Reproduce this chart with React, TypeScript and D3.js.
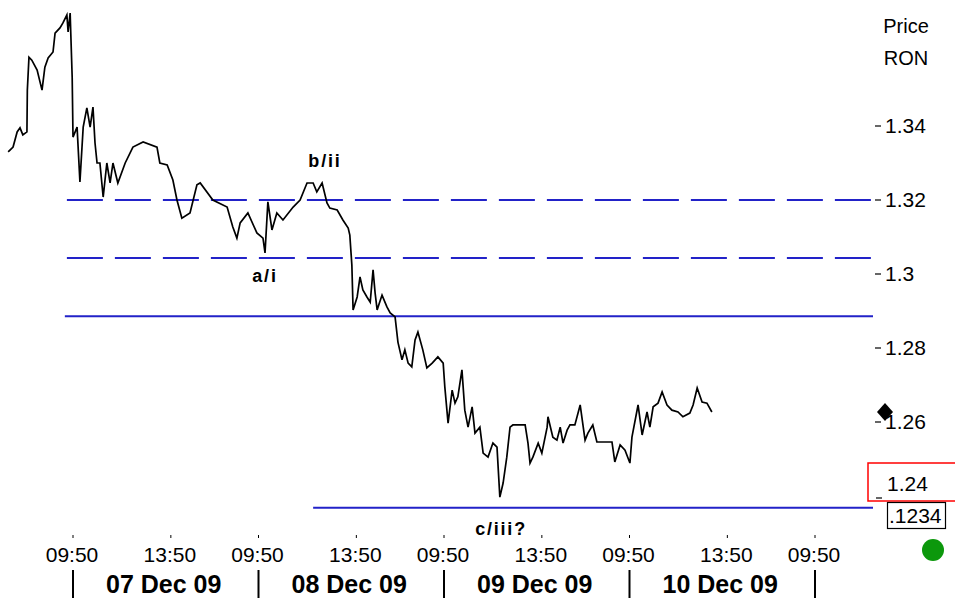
import React from "react";
import * as d3 from "d3";

// trading minutes counted from 07 Dec 09 09:50 (one session = 455 min)
const times = [
  -159, -147, -137, -130, -123, -113, -112, -108, -101, -88, -76, -69, -61, -49, -44, -32, -25, -15, -12, -7, -2,
  0, 10, 17, 25, 34, 42, 49, 54, 59, 66, 74, 83, 91, 98, 110, 128, 147, 172, 206, 213, 231, 245, 255, 267, 287,
  304, 312, 343, 378, 392, 402, 410, 429, 451, 466, 471, 478, 488, 500, 515, 540, 557, 574, 589, 598, 611, 623,
  630, 648, 662, 675, 679, 684, 687, 697, 704, 711, 721, 729, 736, 741, 746, 758, 770, 778, 790, 797, 807, 814,
  822, 831, 839, 846, 858, 868, 881, 895, 908, 912, 920, 930, 937, 944, 954, 961, 969, 979, 986, 998, 1006, 1018,
  1030, 1040, 1047, 1055, 1064, 1072, 1079, 1109, 1116, 1121, 1128, 1141, 1150, 1163, 1165, 1177, 1187, 1195,
  1202, 1212, 1219, 1231, 1244, 1256, 1263, 1275, 1285, 1322, 1329, 1342, 1354, 1366, 1371, 1386, 1396, 1408,
  1415, 1423, 1435, 1445, 1457, 1469, 1484, 1496, 1513, 1521, 1531, 1543, 1555, 1567,
];
const prices = [
  1.333, 1.3343, 1.3384, 1.3395, 1.3376, 1.3384, 1.3497, 1.3586, 1.3578, 1.3551, 1.3497, 1.3559, 1.3584, 1.36,
  1.3651, 1.3665, 1.3678, 1.37, 1.3654, 1.3705, 1.3532, 1.337, 1.3397, 1.3249, 1.3397, 1.3449, 1.3397, 1.3451,
  1.3354, 1.33, 1.33, 1.3208, 1.33, 1.3246, 1.33, 1.3246, 1.33, 1.3343, 1.3357, 1.3343, 1.33, 1.3295, 1.3254,
  1.32, 1.3151, 1.3165, 1.3241, 1.3246, 1.32, 1.3181, 1.3127, 1.3097, 1.3138, 1.3165, 1.3111, 1.3097, 1.3057,
  1.3195, 1.3119, 1.3165, 1.3146, 1.3181, 1.32, 1.3246, 1.3246, 1.3222, 1.3246, 1.3192, 1.3178, 1.3173, 1.3146,
  1.3124, 1.3105, 1.3024, 1.2903, 1.2938, 1.2992, 1.2957, 1.2938, 1.2924, 1.3011, 1.2949, 1.2903, 1.2943,
  1.2911, 1.2895, 1.2884, 1.2816, 1.2768, 1.2795, 1.2759, 1.2749, 1.2822, 1.2843, 1.2795, 1.2746, 1.2759,
  1.2776, 1.2759, 1.2695, 1.2597, 1.2686, 1.2651, 1.2668, 1.2741, 1.2632, 1.2586, 1.2641, 1.257, 1.2586,
  1.2516, 1.2505, 1.2543, 1.2532, 1.2397, 1.2435, 1.2505, 1.2586, 1.2592, 1.2592, 1.2543, 1.2489, 1.2505,
  1.2543, 1.2516, 1.2586, 1.2614, 1.2559, 1.2551, 1.2586, 1.2543, 1.2578, 1.2592, 1.2592, 1.2646, 1.2551,
  1.257, 1.2592, 1.2546, 1.2546, 1.2492, 1.2538, 1.2524, 1.2489, 1.2559, 1.2646, 1.2565, 1.2627, 1.2586,
  1.2641, 1.2651, 1.2681, 1.2646, 1.2632, 1.2627, 1.2614, 1.2624, 1.2646, 1.2692, 1.2654, 1.2651, 1.2627,
];

const dayLabels = ["07 Dec 09", "08 Dec 09", "09 Dec 09", "10 Dec 09"];
const sessionLength = 455;
const sessionTickOffsets = [0, 240];
const sessionTickLabels = ["09:50", "13:50"];
const priceTicks = [1.34, 1.32, 1.3, 1.28, 1.26];
const currentTick = 1.24;

// support / resistance levels drawn by the analyst
const levelPrices = [1.32, 1.3043, 1.2886, 1.2368];
const levelStarts = [-15, -15, -20, 589];
const levelDashed = [true, true, false, false];

const annotationLabels = ["b/ii", "a/i", "c/iii?"];
const annotationTimes = [618, 471, 1050];
const annotationPrices = [1.3289, 1.2978, 1.2295];

const W = 955;
const H = 603;
const plotRight = 873;
const blue = "#2222c8";
const font = "'Liberation Sans', Arial, sans-serif";

const App: React.FC = () => {
  const x = d3.scaleLinear().domain([0, 4 * sessionLength]).range([73, 815]);
  const y = d3.scaleLinear().domain([1.24, 1.34]).range([496, 126]);

  const data = times.map((t, i) => ({ t, p: prices[i] }));
  const line = d3
    .line<{ t: number; p: number }>()
    .x((d) => x(d.t))
    .y((d) => y(d.p));

  const ticks: { t: number; label: string }[] = [];
  for (let d = 0; d <= dayLabels.length; d++) {
    sessionTickOffsets.forEach((o, i) => {
      const t = d * sessionLength + o;
      if (t <= dayLabels.length * sessionLength) ticks.push({ t, label: sessionTickLabels[i] });
    });
  }

  return (
    <svg
      width={W}
      height={H}
      style={{ position: "absolute", left: 0, top: 0, background: "#fff" }}
      fontFamily={font}
    >
      <rect width={W} height={H} fill="#fff" />

      {levelPrices.map((p, i) => (
        <line
          key={"lv" + i}
          x1={x(levelStarts[i])}
          x2={plotRight}
          y1={y(p)}
          y2={y(p)}
          stroke={blue}
          strokeWidth={2}
          strokeDasharray={levelDashed[i] ? "36 12" : undefined}
        />
      ))}

      <path d={line(data) || ""} fill="none" stroke="#000" strokeWidth={1.7} strokeLinejoin="miter" />

      {annotationLabels.map((a, i) => (
        <text
          key={"an" + i}
          x={x(annotationTimes[i])}
          y={y(annotationPrices[i])}
          textAnchor="middle"
          fontWeight="bold"
          fontSize={18}
          letterSpacing={1.8}
        >
          {a}
        </text>
      ))}

      {/* right price axis */}
      <text x={906} y={33} textAnchor="middle" fontSize={20}>Price</text>
      <text x={906} y={65} textAnchor="middle" fontSize={20}>RON</text>
      {priceTicks.map((p) => (
        <g key={"pt" + p}>
          <line x1={875} x2={881} y1={y(p)} y2={y(p)} stroke="#000" strokeWidth={1.2} />
          <text x={885} y={y(p) + 7} fontSize={21}>{String(p)}</text>
        </g>
      ))}

      {/* current-level edit box */}
      <rect x={868} y={463} width={95} height={38} fill="#fff" stroke="#f00" strokeWidth={1.5} />
      <line x1={876} x2={882} y1={y(currentTick) + 2} y2={y(currentTick) + 2} stroke="#000" strokeWidth={1.2} />
      <text x={887} y={y(currentTick) - 5} fontSize={21}>{String(currentTick)}</text>
      <rect x={887.5} y={502.5} width={58} height={26} fill="#fff" stroke="#000" strokeWidth={1.2} />
      <text x={889} y={523} fontSize={21}>.1234</text>

      <path d="M885,403 L893,412 L885,421 L877,412 Z" fill="#000" />
      <circle cx={933} cy={550} r={11} fill="#0c980c" />

      {/* time axis */}
      {ticks.map((tk, i) => (
        <g key={"tt" + i}>
          <line x1={x(tk.t)} x2={x(tk.t)} y1={535} y2={538} stroke="#000" strokeWidth={1} />
          <text x={x(tk.t) - 1} y={562} textAnchor="middle" fontSize={21}>{tk.label}</text>
        </g>
      ))}
      {d3.range(dayLabels.length + 1).map((d) => (
        <line
          key={"sep" + d}
          x1={x(d * sessionLength)}
          x2={x(d * sessionLength)}
          y1={570}
          y2={598}
          stroke="#000"
          strokeWidth={2}
        />
      ))}
      {dayLabels.map((lab, d) => (
        <text
          key={"dl" + d}
          x={(x(d * sessionLength) + x((d + 1) * sessionLength)) / 2 - 2}
          y={593}
          textAnchor="middle"
          fontWeight="bold"
          fontSize={25}
        >
          {lab}
        </text>
      ))}
    </svg>
  );
};

export default App;
